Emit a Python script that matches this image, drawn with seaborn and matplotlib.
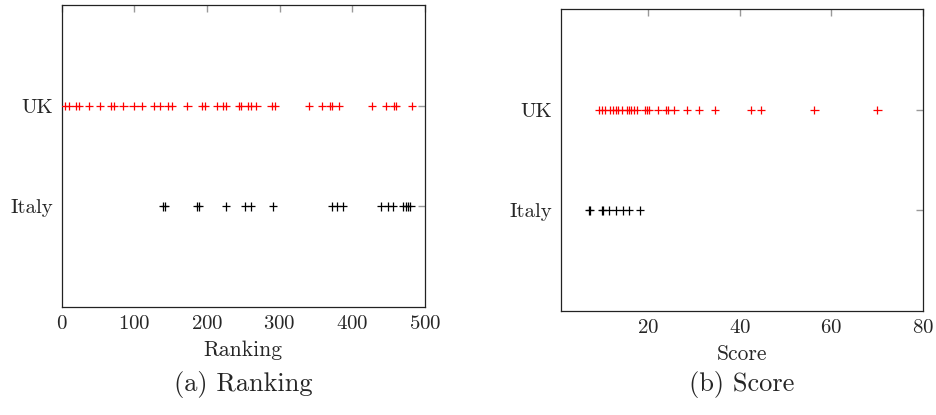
import numpy as np
import pandas as pd
import matplotlib
matplotlib.use("Agg")
import matplotlib.pyplot as plt
import seaborn as sns

countries = ["UK", "Italy"]
uk_ranking = [5, 10, 20, 24, 38, 53, 68, 72, 85, 99, 110, 127, 135, 146, 152,
              173, 193, 197, 214, 222, 226, 244, 247, 257, 260, 268, 289, 293,
              340, 358, 369, 372, 382, 427, 446, 458, 460, 482]
italy_ranking = [140, 142, 186, 189, 226, 252, 261, 291, 372, 379, 387, 440,
                 449, 456, 470, 474, 477, 480]
uk_score = [9.4, 10.0, 10.7, 11.8, 12.5, 13.1, 13.6, 14.3, 15.4, 15.9, 16.4,
            17.0, 17.7, 19.4, 19.9, 20.3, 22.2, 24.0, 24.5, 25.8, 28.5, 31.2,
            34.7, 42.5, 44.7, 56.3, 70.0]
italy_score = [7.2, 7.4, 10.0, 10.2, 11.6, 13.1, 14.6, 15.9, 18.3]
ranking_ticks = [0, 100, 200, 300, 400, 500]
score_ticks = [20, 40, 60, 80]
captions = ["(a) Ranking", "(b) Score"]
xlabels = ["Ranking", "Score"]
colors = {"UK": "#ff0000", "Italy": "#000000"}

sns.set_theme(style="white")
plt.rcParams["font.family"] = ["cmr10", "DejaVu Serif"]
plt.rcParams["axes.formatter.use_mathtext"] = True
plt.rcParams["mathtext.fontset"] = "cm"

df_rank = pd.DataFrame({
    "country": ["UK"] * len(uk_ranking) + ["Italy"] * len(italy_ranking),
    "value": uk_ranking + italy_ranking,
})
df_score = pd.DataFrame({
    "country": ["UK"] * len(uk_score) + ["Italy"] * len(italy_score),
    "value": uk_score + italy_score,
})

fig = plt.figure(figsize=(9.37, 4.15), dpi=100)
ax1 = fig.add_axes([0.0658, 0.2602, 0.3877, 0.7277])
ax2 = fig.add_axes([0.5984, 0.2506, 0.3870, 0.7270])

for ax, df, ticks, xlim, xl, cap in [
    (ax1, df_rank, ranking_ticks, (0, 500), xlabels[0], captions[0]),
    (ax2, df_score, score_ticks, (1.05, 80), xlabels[1], captions[1]),
]:
    sns.stripplot(data=df, x="value", y="country", hue="country",
                  order=countries, hue_order=countries, palette=colors,
                  jitter=False, marker="+", size=6, linewidth=0.9,
                  legend=False, ax=ax, orient="h")
    ax.set_xlim(*xlim)
    ax.set_ylim(2, -1)
    ax.set_xticks(ticks)
    ax.set_xlabel(xl, fontsize=15.5, labelpad=5)
    ax.set_ylabel("")
    ax.tick_params(axis="both", which="both", direction="in", length=5,
                   width=1, color="#999999", top=True, right=True,
                   labelsize=15, pad=6)
    for s in ax.spines.values():
        s.set_color("#222222")
        s.set_linewidth(0.9)
    pos = ax.get_position()
    fig.text(pos.x0 + pos.width / 2, 1 - 384 / 415, cap, ha="center",
             va="center", fontsize=19)

fig.savefig("out.png", dpi=100)
